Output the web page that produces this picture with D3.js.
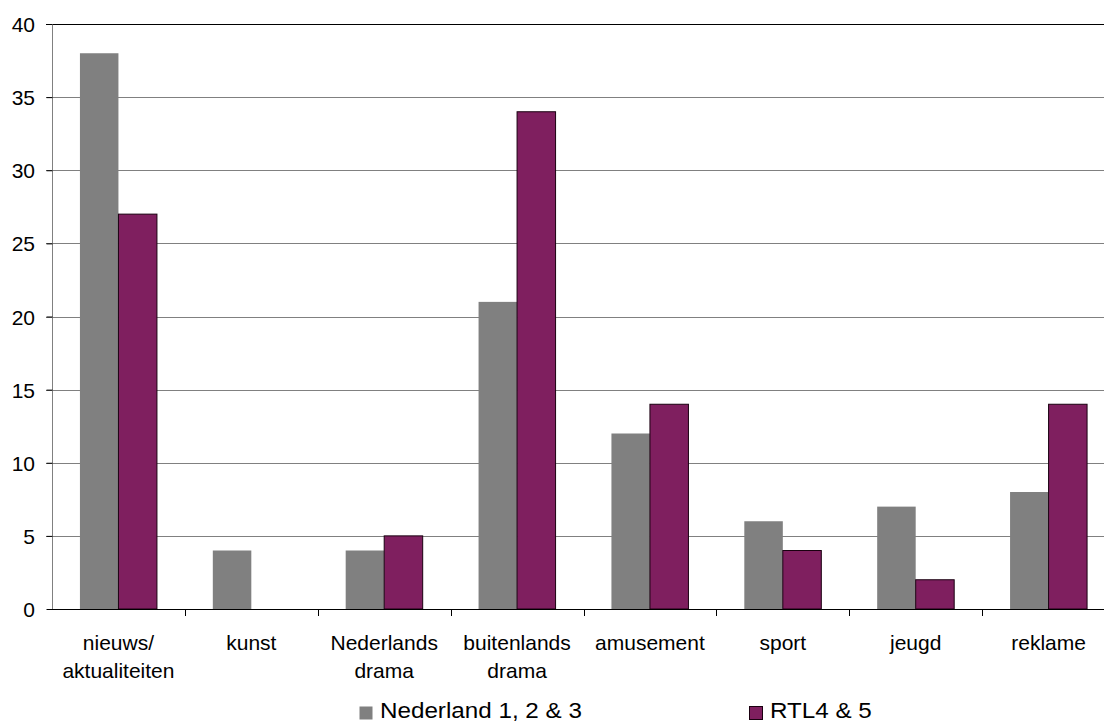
<!DOCTYPE html>
<html><head><meta charset="utf-8">
<script src="https://cdn.jsdelivr.net/npm/d3@7"></script>
<style>body{margin:0;background:#fff;} text{font-family:Arial,"Liberation Sans",sans-serif;fill:#000;}</style>
</head><body>
<script>
const categories = [["nieuws/","aktualiteiten"],["kunst"],["Nederlands","drama"],["buitenlands","drama"],["amusement"],["sport"],["jeugd"],["reklame"]];
const seriesNames = ["Nederland 1, 2 & 3","RTL4 & 5"];
const nederland = [38,4,4,21,12,6,7,8];
const rtl = [27,0,5,34,14,4,2,14];
const yTicks = [0,5,10,15,20,25,30,35,40];
const colors = ["#808080","#7f1f5f"];

const W=1104,H=722;
const svg=d3.select("body").append("svg").attr("width",W).attr("height",H);
const keys=categories.map((c,i)=>"c"+i);
const x=d3.scaleBand().domain(keys).range([52,1115]);
const y=d3.scaleLinear().domain([0,40]).range([609,24]);
const barW=38.5;

// gridlines
svg.append("g").selectAll("line").data(yTicks.filter(t=>t>0)).join("line")
  .attr("x1",46).attr("x2",W).attr("y1",d=>Math.round(y(d))+0.5).attr("y2",d=>Math.round(y(d))+0.5)
  .attr("stroke",d=>d===40?"#000":"#808080").attr("stroke-width",1);

// y axis
const yAxis=d3.axisLeft(y).tickValues(yTicks).tickSize(6).tickPadding(6);
const gy=svg.append("g").attr("transform","translate(52.5,0)").call(yAxis);
gy.select(".domain").attr("stroke","#808080").attr("d","M0,24V609");
gy.selectAll(".tick line").attr("stroke","#000");
gy.selectAll("text").style("font-size","21px").attr("x",-17.5).attr("dy","0.36em");

// bars
const series=[nederland,rtl];
series.forEach((vals,si)=>{
  svg.append("g").selectAll("rect").data(vals).join("rect")
    .attr("x",(d,i)=>x(keys[i])+x.bandwidth()/2-barW+si*barW)
    .attr("y",d=>y(d)).attr("width",barW).attr("height",d=>y(0)-y(d))
    .attr("fill",colors[si])
    .attr("stroke",si===1?"#1a0010":"none").attr("stroke-width",si===1?1:0)
    .attr("display",d=>d===0?"none":null);
});

// x axis
const xAxis=d3.axisBottom(x).tickSize(0).tickFormat("");
const gx=svg.append("g").attr("transform","translate(0,609.5)").call(xAxis);
gx.select(".domain").attr("stroke","#000").attr("d","M52,0H"+W);
svg.append("g").selectAll("line").data(keys.slice(1)).join("line")
  .attr("x1",d=>Math.round(x(d))+0.5).attr("x2",d=>Math.round(x(d))+0.5)
  .attr("y1",609).attr("y2",616).attr("stroke","#000");

// category labels
const lab=svg.append("g").selectAll("text").data(categories).join("text")
  .attr("text-anchor","middle").style("font-size","21px");
lab.each(function(c,i){
  const t=d3.select(this);
  c.forEach((line,j)=>{
    t.append("tspan").attr("x",x(keys[i])+x.bandwidth()/2).attr("y",650+j*28).text(line);
  });
});

// legend
const leg=[{x:359,tx:380},{x:749,tx:770}];
const texts=[];
seriesNames.forEach((n,i)=>{
  svg.append("rect").attr("x",leg[i].x+0.5).attr("y",706.5).attr("width",13).attr("height",13)
    .attr("fill",colors[i]).attr("stroke",i===1?"#1a0010":"none");
  texts.push(svg.append("text").attr("x",0).attr("y",718).style("font-size","22px").text(n));
});
const k=202/texts[0].node().getComputedTextLength();
texts.forEach((t,i)=>t.attr("transform",`translate(${leg[i].tx},0) scale(${k},1)`));
</script>
</body></html>
